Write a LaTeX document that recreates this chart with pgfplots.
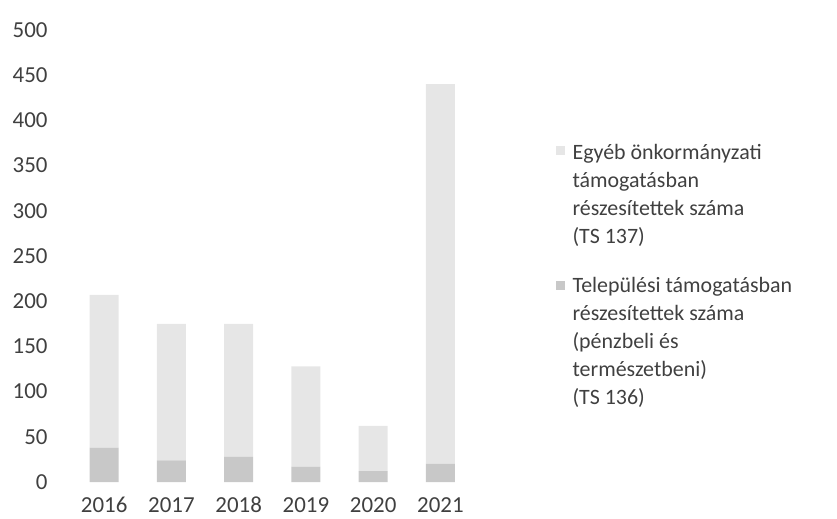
\documentclass[border=0pt]{standalone}
\usepackage{pgfplots}
\pgfplotsset{compat=1.18}
\usepackage{fontspec}
\setmainfont{Carlito}
\definecolor{topc}{HTML}{E6E6E6}
\definecolor{botc}{HTML}{C8C8C8}
\definecolor{txt}{HTML}{404040}

\begin{document}
\begin{tikzpicture}
\begin{axis}[
  name=ax,
  scale only axis,
  width=423bp, height=452bp,
  ybar stacked, bar width=29bp,
  xmin=-0.79, xmax=5.5,
  ymin=0, ymax=500,
  ytick={0,50,...,500},
  xtick={0,...,5},
  xticklabels={2016,2017,2018,2019,2020,2021},
  axis line style={draw=none},
  major tick style={draw=none},
  tick label style={font=\fontsize{23}{27}\selectfont, text=txt},
  xticklabel style={text height=15bp, text depth=0bp, anchor=north, yshift=-12bp},
  /pgf/number format/assume math mode=true,
  legend style={at={(axis description cs:1.19,0.812)}, anchor=north west,
    draw=none, fill=none, inner sep=0pt,
    font=\fontsize{22}{28}\selectfont, text=txt, row sep=14bp},
  legend cell align=left,
  reverse legend,
]
\addplot[fill=botc, draw=none,
  legend image code/.code={\path[fill=none,draw=none] (0bp,-70bp) rectangle (16bp,70bp); \fill[botc] (1bp,21.5bp) rectangle (10bp,30.5bp);}]
  coordinates {(0,38) (1,24) (2,28) (3,17) (4,12) (5,20)};
\addlegendentry{\begin{tabular}{@{}l@{}}Települési támogatásban\\részesítettek száma\\(pénzbeli és\\természetbeni)\\(TS 136)\end{tabular}}
\addplot[fill=topc, draw=none,
  legend image code/.code={\path[fill=none,draw=none] (0bp,-56bp) rectangle (16bp,56bp); \fill[topc] (1bp,16.5bp) rectangle (10bp,25.5bp);}]
  coordinates {(0,169) (1,151) (2,147) (3,111) (4,50) (5,420)};
\addlegendentry{\begin{tabular}{@{}l@{}}Egyéb önkormányzati\\támogatásban\\részesítettek száma\\(TS 137)\end{tabular}}
\end{axis}
\pgfresetboundingbox
\path ([xshift=-51bp,yshift=-37bp]ax.south west) rectangle ++(837bp,519bp);
\end{tikzpicture}
\end{document}
